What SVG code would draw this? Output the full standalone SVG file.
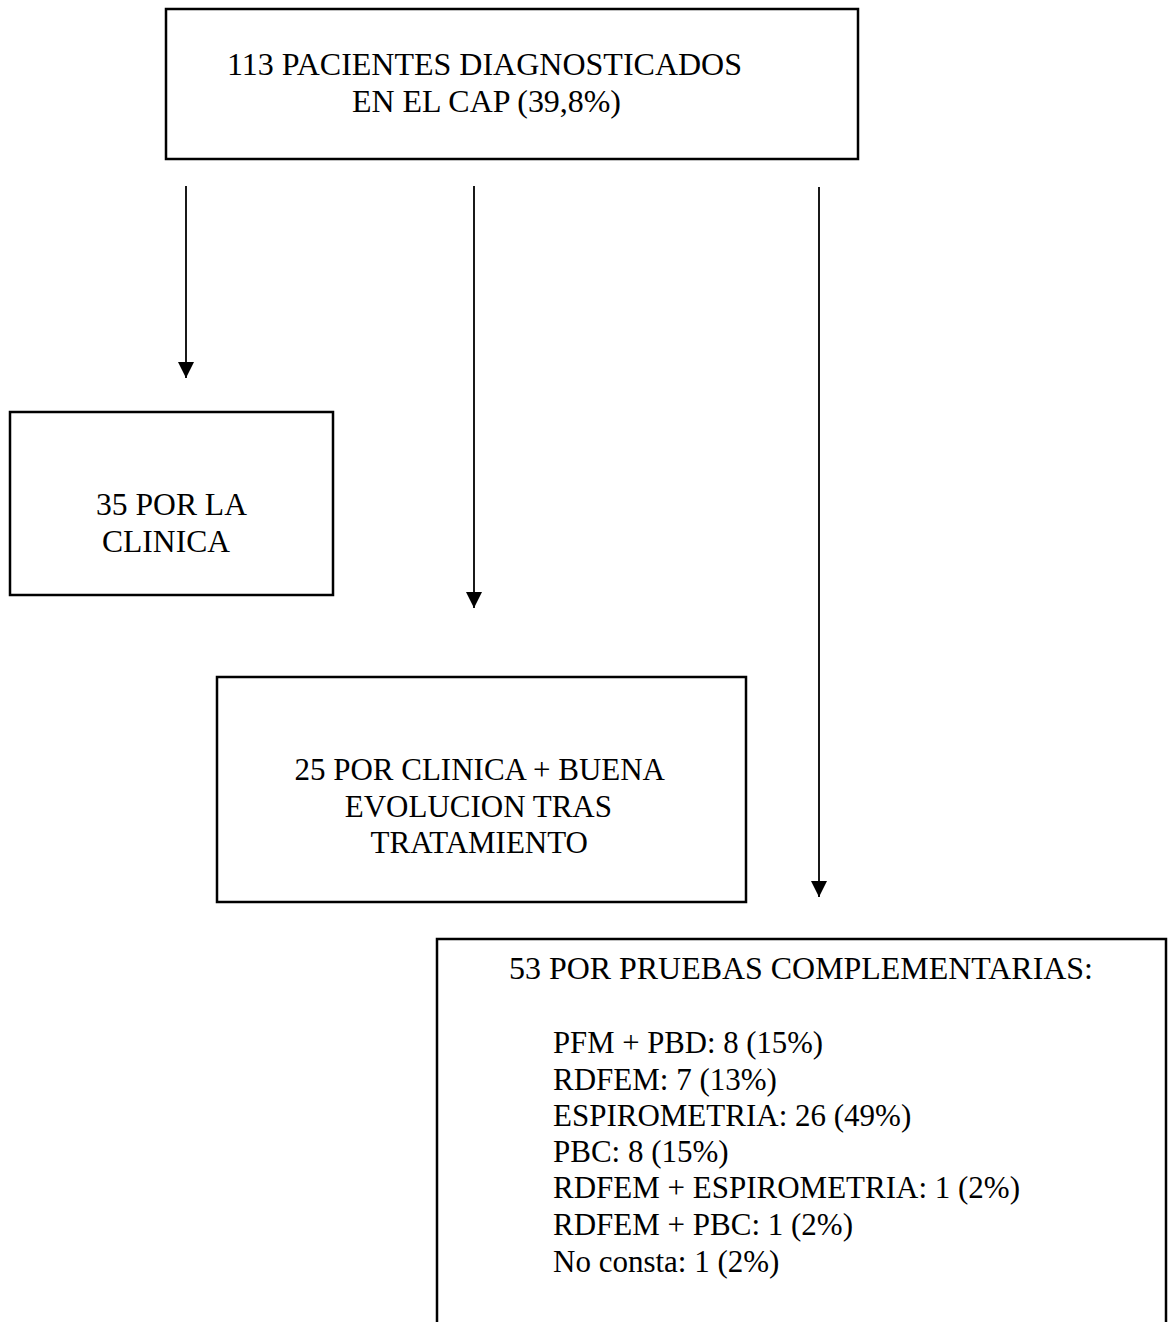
<svg xmlns="http://www.w3.org/2000/svg" width="1171" height="1322" viewBox="0 0 1171 1322">
<style>
.box{fill:#fff;stroke:#000;stroke-width:2.5}
.t{font-family:"Liberation Serif","Times New Roman",serif;font-size:31px;fill:#000}
.c{stroke:#000;stroke-width:1.8;fill:none}
</style>
<defs>
<marker id="ah" markerUnits="userSpaceOnUse" markerWidth="16" markerHeight="16" refX="16" refY="8" orient="auto">
<path d="M0,0 L16,8 L0,16 Z" fill="#000"/>
</marker>
</defs>
<rect width="1171" height="1322" fill="#fff"/>
<g id="connectors">
<line class="c" x1="186" y1="186" x2="186" y2="378" marker-end="url(#ah)"/>
<line class="c" x1="474" y1="186" x2="474" y2="608" marker-end="url(#ah)"/>
<line class="c" x1="819" y1="187" x2="819" y2="897" marker-end="url(#ah)"/>
</g>
<g id="n113">
<rect class="box" x="166" y="9" width="692" height="150"/>
<text class="t" x="227" y="75" textLength="515" lengthAdjust="spacingAndGlyphs">113 PACIENTES DIAGNOSTICADOS</text>
<text class="t" x="352" y="112" textLength="269" lengthAdjust="spacingAndGlyphs">EN EL CAP (39,8%)</text>
</g>
<g id="n35">
<rect class="box" x="10" y="412" width="323" height="183"/>
<text class="t" x="96" y="515" textLength="151" lengthAdjust="spacingAndGlyphs">35 POR LA</text>
<text class="t" x="102" y="552" textLength="128" lengthAdjust="spacingAndGlyphs">CLINICA</text>
</g>
<g id="n25">
<rect class="box" x="217" y="677" width="529" height="225"/>
<text class="t" x="665" y="780" text-anchor="end">25 POR CLINICA + BUENA</text>
<text class="t" x="612" y="817" text-anchor="end">EVOLUCION TRAS</text>
<text class="t" x="588" y="853" text-anchor="end">TRATAMIENTO</text>
</g>
<g id="n53">
<rect class="box" x="437" y="939" width="729" height="420"/>
<text class="t" x="509" y="979" textLength="584" lengthAdjust="spacingAndGlyphs">53 POR PRUEBAS COMPLEMENTARIAS:</text>
<text class="t" x="553" y="1053" textLength="270" lengthAdjust="spacingAndGlyphs">PFM + PBD: 8 (15%)</text>
<text class="t" x="553" y="1090">RDFEM: 7 (13%)</text>
<text class="t" x="553" y="1126">ESPIROMETRIA: 26 (49%)</text>
<text class="t" x="553" y="1162">PBC: 8 (15%)</text>
<text class="t" x="553" y="1198">RDFEM + ESPIROMETRIA: 1 (2%)</text>
<text class="t" x="553" y="1235">RDFEM + PBC: 1 (2%)</text>
<text class="t" x="553" y="1272">No consta: 1 (2%)</text>
</g>
</svg>
